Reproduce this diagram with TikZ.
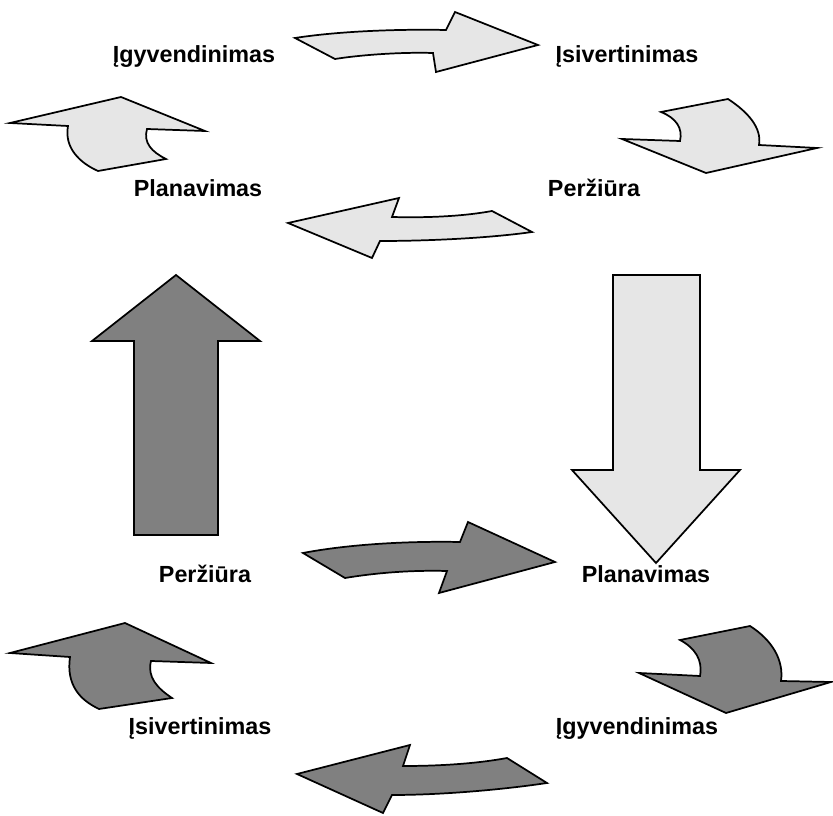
\documentclass[tikz,border=0pt]{standalone}
\usepackage{fontspec}
\setmainfont{Liberation Sans}
\definecolor{lightfill}{RGB}{230,230,230}
\definecolor{darkfill}{RGB}{128,128,128}
\tikzset{
  lightarrow/.style={draw=black, fill=lightfill, line width=1.3pt, line join=miter},
  darkarrow/.style={draw=black, fill=darkfill, line width=1.3pt, line join=miter},
  lbl/.style={font=\fontsize{17.5}{20}\selectfont\bfseries, anchor=base, inner sep=0pt}
}
\begin{document}
\begin{tikzpicture}[x=0.75pt, y=-0.75pt]
\useasboundingbox (0,0) rectangle (833,816);
% ---------- top cycle (light) ----------
\draw[lightarrow] (295,38) .. controls (340,31) and (400,29) .. (446,30) -- (455,12) -- (538,45) -- (436,72) -- (433,53) .. controls (400,52) and (360,55) .. (335,59) -- cycle;
\draw[lightarrow] (10,123) -- (121,97) -- (205,131) -- (147,129) .. controls (143,143) and (152,152) .. (166,159) -- (98,171) .. controls (80,163) and (64,148) .. (68,126) -- cycle;
\draw[lightarrow] (661,112) -- (728,99) .. controls (748,112) and (762,128) .. (759,145) -- (817,148) -- (706,173) -- (622,139) -- (680,141) .. controls (683,128) and (676,118) .. (661,112) -- cycle;
\draw[lightarrow] (288,223) -- (399,198) -- (392,217) .. controls (430,218) and (465,216) .. (492,211) -- (532,232) .. controls (490,238) and (430,241) .. (380,241) -- (372,258) -- cycle;
% ---------- big arrows ----------
\draw[darkarrow] (176,275) -- (260,341) -- (218,341) -- (218,535) -- (134,535) -- (134,341) -- (92,341) -- cycle;
\draw[lightarrow] (613,275) -- (700,275) -- (700,470) -- (740,470) -- (656,563) -- (572,470) -- (613,470) -- cycle;
% ---------- bottom cycle (dark) ----------
\draw[darkarrow] (303,553) .. controls (350,544) and (410,541) .. (460,542) -- (468,522) -- (555,562) -- (439,593) -- (447,571) .. controls (410,570) and (375,573) .. (345,578) -- cycle;
\draw[darkarrow] (10,653) -- (125,623) -- (211,663) -- (151,661) .. controls (147,677) and (157,688) .. (172,698) -- (99,709) .. controls (80,700) and (66,685) .. (70,657) -- cycle;
\draw[darkarrow] (680,640) -- (750,626) .. controls (772,640) and (784,660) .. (781,681) -- (831,682) -- (726,713) -- (639,673) -- (700,676) .. controls (703,660) and (695,648) .. (680,640) -- cycle;
\draw[darkarrow] (297,774) -- (410,745) -- (403,766) .. controls (445,766) and (480,763) .. (507,758) -- (547,783) .. controls (500,790) and (440,795) .. (392,795) -- (383,813) -- cycle;
% ---------- labels ----------
\node[lbl] (t1) at (194,63) {Įgyvendinimas};
\node[lbl] (t2) at (627,63) {Įsivertinimas};
\node[lbl] (t3) at (198,197) {Planavimas};
\node[lbl] (t4) at (594,197) {Peržiūra};
\node[lbl] (b1) at (205,583) {Peržiūra};
\node[lbl] (b2) at (646,583) {Planavimas};
\node[lbl] (b3) at (200,735) {Įsivertinimas};
\node[lbl] (b4) at (637,735) {Įgyvendinimas};
\end{tikzpicture}
\end{document}
